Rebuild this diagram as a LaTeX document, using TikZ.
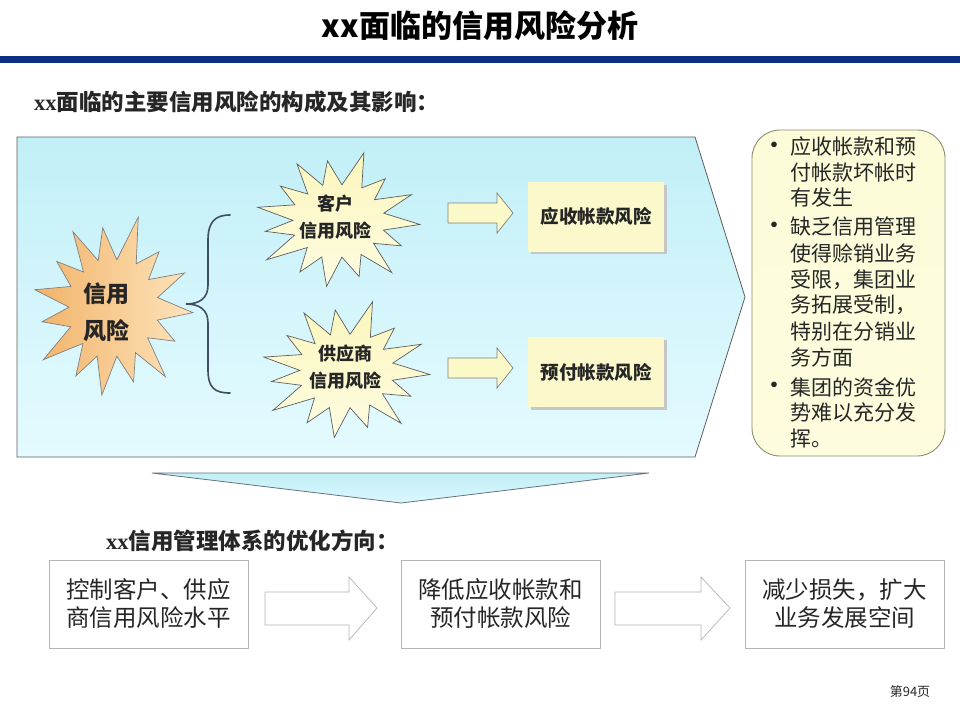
\documentclass[tikz,border=0pt]{standalone}
\usepackage{fontspec}
\setmainfont{Noto Sans CJK SC}
\newfontfamily\serifx{Liberation Serif}
\usetikzlibrary{shapes.geometric}
\definecolor{barblue}{HTML}{0C2F86}
\definecolor{cyanA}{HTML}{C2EFF7}
\definecolor{cyanB}{HTML}{E4FBFF}
\definecolor{edgegray}{HTML}{5E5E5E}
\definecolor{orA}{HTML}{F2B36A}
\definecolor{orB}{HTML}{FDE4BC}
\definecolor{yelA}{HTML}{FBF6BC}
\definecolor{yelB}{HTML}{FEFCE2}
\definecolor{yelbox}{HTML}{FBF9CC}
\definecolor{yelarrow}{HTML}{FCF9C8}
\definecolor{notebox}{HTML}{FDFCD8}
\definecolor{noteedge}{HTML}{8C8C70}
\definecolor{bracecol}{HTML}{3F4F5F}
\definecolor{txt}{HTML}{262626}
\definecolor{lightedge}{HTML}{B4B4B4}
\newcommand\spikestar[5]{%
  \shadedraw[#5, shift={(#1,#2)}, xscale=#3, yscale=#4]
  (3:1.0) -- (14:0.57) -- (26:0.86) -- (38:0.55) -- (50:1.02) -- (61:0.58) --
  (73:0.88) -- (85:0.55) -- (98:1.0) -- (110:0.58) -- (121:0.9) -- (133:0.55) --
  (146:1.05) -- (158:0.57) -- (170:0.9) -- (181:0.55) -- (192:1.0) -- (205:0.58) --
  (217:0.88) -- (228:0.55) -- (240:1.0) -- (251:0.57) -- (262:0.92) -- (275:0.55) --
  (287:1.08) -- (300:0.58) -- (312:0.86) -- (324:0.55) -- (336:0.98) -- (348:0.57) -- cycle;}
\tikzset{
  ybox/.style={draw=none, fill=yelbox, minimum width=136pt, minimum height=70pt,
    inner sep=0pt, font=\fontsize{18.5}{22}\selectfont\bfseries, text=txt},
  wbox/.style={draw=lightedge, fill=white, minimum width=199pt, minimum height=88pt,
    inner sep=0pt, align=center, font=\fontsize{23.5}{28}\selectfont, text=txt},
  startext/.style={align=center, inner sep=0pt, text=txt},
  noteline/.style={anchor=west, inner sep=0pt, font=\fontsize{21}{25}\selectfont, text=txt},
  bulletdot/.style={inner sep=0pt, font=\fontsize{20}{22}\selectfont\bfseries, text=txt},
  yarrow/.style={draw=gray, fill=yelarrow, line width=0.7pt},
  warrow/.style={draw=lightedge, fill=white, line width=0.7pt},
}
\begin{document}
\begin{tikzpicture}[x=1pt,y=-1pt]
\useasboundingbox (0,0) rectangle (960,720);
\fill[white] (0,0) rectangle (960,720);
% title
\node[inner sep=0pt, font=\fontsize{31}{36}\selectfont\bfseries] (title) at (480,26) {xx面临的信用风险分析};
\fill[barblue] (0,56) rectangle (960,63);
% subtitle 1
\node[anchor=west, inner sep=0pt, font=\fontsize{22.5}{26}\selectfont\bfseries, text=txt] (sub1) at (34,102) {{\serifx xx}面临的主要信用风险的构成及其影响：};
% big pentagon
\shadedraw[top color=cyanA, bottom color=cyanB, draw=edgegray, line width=0.8pt]
  (17,137) -- (695,137) -- (745,297) -- (695,457) -- (17,457) -- cycle;
% stars
\spikestar{113}{308}{80}{88}{left color=orA, right color=orB, draw=gray, line width=0.7pt}
\spikestar{338}{221}{82}{66}{top color=yelA, bottom color=yelB, draw=edgegray, line width=0.7pt}
\spikestar{346}{371}{84}{67}{top color=yelA, bottom color=yelB, draw=edgegray, line width=0.7pt}
\node[startext, font=\fontsize{23}{37}\selectfont\bfseries] (s0) at (106,312) {信用\\风险};
\node[startext, font=\fontsize{18}{27}\selectfont\bfseries] (s1) at (335,217) {客户\\信用风险};
\node[startext, font=\fontsize{18}{27}\selectfont\bfseries] (s2) at (345,367) {供应商\\信用风险};
% brace
\draw[bracecol, line width=1.6pt, line cap=round]
  (230,215) .. controls (215,215) and (208,222) .. (208,240) -- (208,285)
  .. controls (208,298) and (200,304) .. (186,304)
  .. controls (200,304) and (208,310) .. (208,323) -- (208,370)
  .. controls (208,388) and (215,393) .. (230,393);
% yellow block arrows
\filldraw[yarrow] (448,203) -- (497,203) -- (497,193) -- (513,213) -- (497,233) -- (497,223) -- (448,223) -- cycle;
\filldraw[yarrow] (448,358) -- (497,358) -- (497,348) -- (513,368) -- (497,388) -- (497,378) -- (448,378) -- cycle;
% yellow boxes with shadow
\fill[gray!45] (531,185) rectangle (667,254);
\fill[gray!45] (531,340) rectangle (667,410);
\node[ybox] (r1) at (596,216.5) {应收帐款风险};
\node[ybox] (r2) at (596,372) {预付帐款风险};
% note box
\shadedraw[top color=notebox, bottom color=yelB!60!notebox, draw=noteedge, line width=0.9pt, rounded corners=28pt]
  (752,130) rectangle (945,456);
\node[bulletdot] (d1) at (774,147) {•};
\node[bulletdot] (d2) at (774,227) {•};
\node[bulletdot] (d3) at (774,387) {•};
\foreach \yy/\tt [count=\i] in {147/应收帐款和预, 173/付帐款坏帐时, 198/有发生,
  227/缺乏信用管理, 253/使得赊销业务, 280/受限，集团业, 305/务拓展受制，, 332/特别在分销业, 357/务方面,
  387/集团的资金优, 413/势难以充分发, 438/挥。}
  \node[noteline] (n\i) at (790,\yy) {\tt};
% down triangle
\shadedraw[top color=cyanA, bottom color=cyanB!70!cyanA, draw=bracecol!80, line width=0.8pt]
  (152,473) -- (649,473) -- (401,503) -- cycle;
% subtitle 2
\node[anchor=west, inner sep=0pt, font=\fontsize{22.5}{26}\selectfont\bfseries, text=txt] (sub2) at (106,541) {{\serifx xx}信用管理体系的优化方向：};
% bottom boxes
\node[wbox] (c1) at (148.5,604) {控制客户、供应\\商信用风险水平};
\node[wbox] (c2) at (500.5,604) {降低应收帐款和\\预付帐款风险};
\node[wbox] (c3) at (844.5,604) {减少损失，扩大\\业务发展空间};
\filldraw[warrow] (265,592) -- (349,592) -- (349,577) -- (377,608) -- (349,640) -- (349,625) -- (265,625) -- cycle;
\filldraw[warrow] (615,592) -- (701,592) -- (701,577) -- (730,608) -- (701,640) -- (701,625) -- (615,625) -- cycle;
% page number
\node[inner sep=0pt, font=\fontsize{13}{15}\selectfont, text=txt] (pg) at (910,692) {第94页};
\end{tikzpicture}
\end{document}
